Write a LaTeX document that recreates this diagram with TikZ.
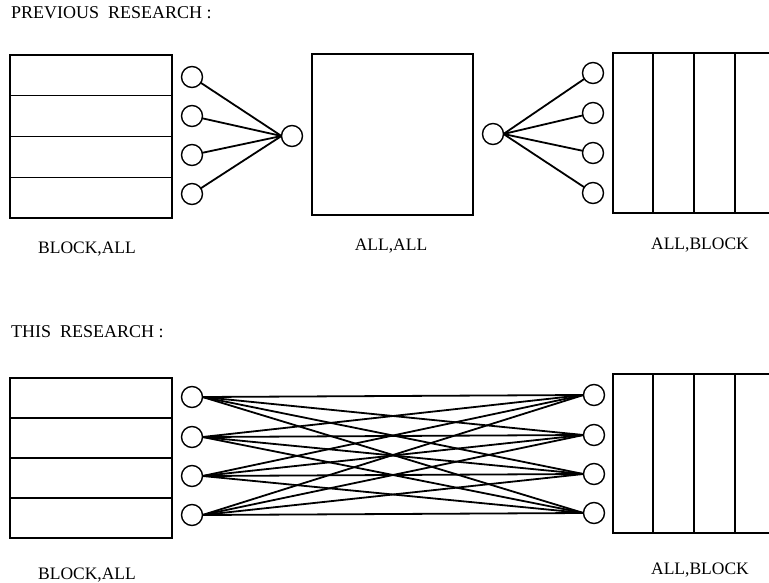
\documentclass[tikz,border=0pt]{standalone}
\usepackage{fontspec}
\setmainfont{Liberation Serif}
\usetikzlibrary{calc}
\begin{document}
\begin{tikzpicture}[x=1pt,y=-1pt,
  blk/.style={draw, line width=1.4pt, inner sep=0pt, outer sep=0pt},
  nd/.style={draw, circle, line width=1.4pt, minimum size=21pt, inner sep=0pt, outer sep=0pt},
  wire/.style={line width=1.8pt},
  sep/.style={line width=1.3pt},
  lbl/.style={anchor=base, inner sep=0pt, font=\fontsize{17.5}{20}\selectfont},
  ttl/.style={anchor=base west, inner sep=0pt, font=\fontsize{18}{21}\selectfont}]
\useasboundingbox (0,0) rectangle (769,583);
\clip (0,0) rectangle (769,583);

% ---------- titles ----------
\node[ttl] (t1) at (11,19) {PREVIOUS~~RESEARCH :};
\node[ttl] (t2) at (11,337) {THIS~~RESEARCH :};

% ---------- top row ----------
\node[blk, minimum width=162pt, minimum height=163pt] (lbA) at (91,136.5) {};
\foreach \f in {0.25,0.5,0.75}
  \draw[sep] ($(lbA.north west)!\f!(lbA.south west)$) -- ($(lbA.north east)!\f!(lbA.south east)$);
\node[blk, minimum width=161pt, minimum height=161pt] (mbA) at (392.5,134.5) {};
\node[blk, minimum width=163pt, minimum height=160pt] (rbA) at (694.5,133) {};
\foreach \f in {0.245,0.497,0.748}
  \draw[sep] ($(rbA.north west)!\f!(rbA.north east)$) -- ($(rbA.south west)!\f!(rbA.south east)$);

\node[nd] (la1) at (192,77) {};
\node[nd] (la2) at (192,116) {};
\node[nd] (la3) at (192,155) {};
\node[nd] (la4) at (192,194) {};
\node[nd] (hA) at (292,136) {};
\node[nd] (hB) at (493,134) {};
\node[nd] (ra1) at (593,73) {};
\node[nd] (ra2) at (593,113) {};
\node[nd] (ra3) at (593,153) {};
\node[nd] (ra4) at (593,193) {};
\foreach \i in {1,...,4} {
  \draw[wire] (la\i) -- (hA.west);
  \draw[wire] (hB.east) -- (ra\i);
}

\node[lbl] (labA1) at (87,253) {BLOCK,ALL};
\node[lbl] (labA2) at (391,251) {ALL,ALL};
\node[lbl] (labA3) at (700,249) {ALL,BLOCK};

% ---------- bottom row ----------
\node[blk, minimum width=162pt, minimum height=160pt] (lbB) at (91,458) {};
\foreach \f in {0.25,0.5,0.75}
  \draw[sep] ($(lbB.north west)!\f!(lbB.south west)$) -- ($(lbB.north east)!\f!(lbB.south east)$);
\node[blk, minimum width=163pt, minimum height=159pt] (rbB) at (694.5,453.5) {};
\foreach \f in {0.245,0.497,0.748}
  \draw[sep] ($(rbB.north west)!\f!(rbB.north east)$) -- ($(rbB.south west)!\f!(rbB.south east)$);

\node[nd] (lb1) at (192,397) {};
\node[nd] (lb2) at (192,437) {};
\node[nd] (lb3) at (192,476) {};
\node[nd] (lb4) at (192,515) {};
\node[nd] (rb1) at (594,395) {};
\node[nd] (rb2) at (594,435) {};
\node[nd] (rb3) at (594,474) {};
\node[nd] (rb4) at (594,513) {};
\foreach \i in {1,...,4}
  \foreach \j in {1,...,4}
    \draw[wire] (lb\i.east) -- (rb\j.west);

\node[lbl] (labB1) at (87,579) {BLOCK,ALL};
\node[lbl] (labB2) at (700,574) {ALL,BLOCK};
\end{tikzpicture}
\end{document}
